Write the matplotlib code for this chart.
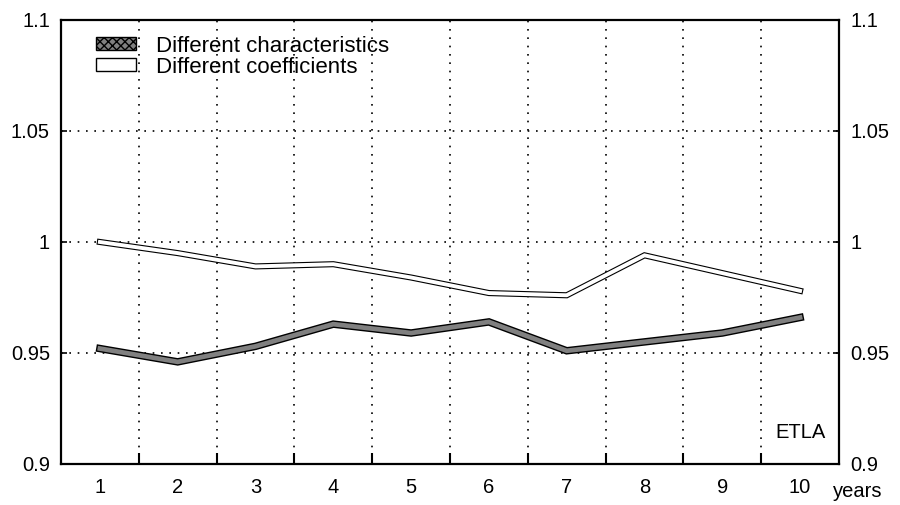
import matplotlib
matplotlib.use('Agg')
import matplotlib.pyplot as plt
import matplotlib.patheffects as pe
from matplotlib.patches import Patch

plt.rc('font', family=['Liberation Sans', 'DejaVu Sans'])

# data
years = [1, 2, 3, 4, 5, 6, 7, 8, 9, 10]
characteristics = [0.952, 0.946, 0.953, 0.963, 0.959, 0.964, 0.951, 0.955, 0.959, 0.966]
coefficients = [1.000, 0.995, 0.989, 0.990, 0.984, 0.977, 0.976, 0.994, 0.986, 0.978]
ytick_vals = [0.9, 0.95, 1.0, 1.05, 1.1]
ytick_labels = ['0.9', '0.95', '1', '1.05', '1.1']

fig = plt.figure(figsize=(9, 5.05), dpi=100)
ax = fig.add_axes([0.0678, 0.0812, 0.8644, 0.8792])

dark = '#808080'
ax.plot(years, characteristics, color=dark, lw=3.4, solid_joinstyle='miter', zorder=4,
        path_effects=[pe.Stroke(linewidth=5.4, foreground='black'), pe.Normal()])
ax.plot(years, coefficients, color='white', lw=2.8, solid_joinstyle='miter', zorder=4,
        path_effects=[pe.Stroke(linewidth=4.4, foreground='black'), pe.Normal()])

ax.set_xlim(0.5, 10.5)
ax.set_ylim(0.9, 1.1)

# category labels in the middle of each bin, ticks at the bin edges
ax.set_xticks(years)
ax.set_xticklabels([str(y) for y in years])
ax.set_xticks([y + 0.5 for y in years[:-1]], minor=True)
ax.tick_params(axis='x', which='major', length=0, pad=10, labelsize=14.5)
ax.tick_params(axis='x', which='minor', length=8, width=1.5, direction='in')

ax.set_yticks(ytick_vals)
ax.set_yticklabels(ytick_labels)
ax.tick_params(axis='y', which='major', length=4, width=1.2, direction='in',
               left=True, right=True, labelleft=True, labelright=True,
               pad=8, labelsize=14.5)

dots = (0, (1, 4))
ax.grid(axis='x', which='minor', color='black', lw=1.2, linestyle=dots)
ax.grid(axis='y', which='major', color='black', lw=1.2, linestyle=dots)
ax.grid(axis='x', which='major', visible=False)

for s in ax.spines.values():
    s.set_linewidth(1.6)

ax.text(0.992, -0.04, 'years', transform=ax.transAxes, fontsize=14.5,
        ha='left', va='top')
ax.text(10.0, 0.914, 'ETLA', fontsize=14.5, ha='center', va='center')

handles = [Patch(facecolor=dark, edgecolor='black', lw=1.0, hatch='xxxx'),
           Patch(facecolor='white', edgecolor='black', lw=1.0)]
ax.legend(handles, ['Different characteristics', 'Different coefficients'],
          loc='upper left', bbox_to_anchor=(0.034, 0.985), frameon=False,
          fontsize=16, handlelength=1.8, handleheight=0.5, handletextpad=0.9,
          labelspacing=0.0, borderaxespad=0)

fig.savefig('out.png', dpi=100)
